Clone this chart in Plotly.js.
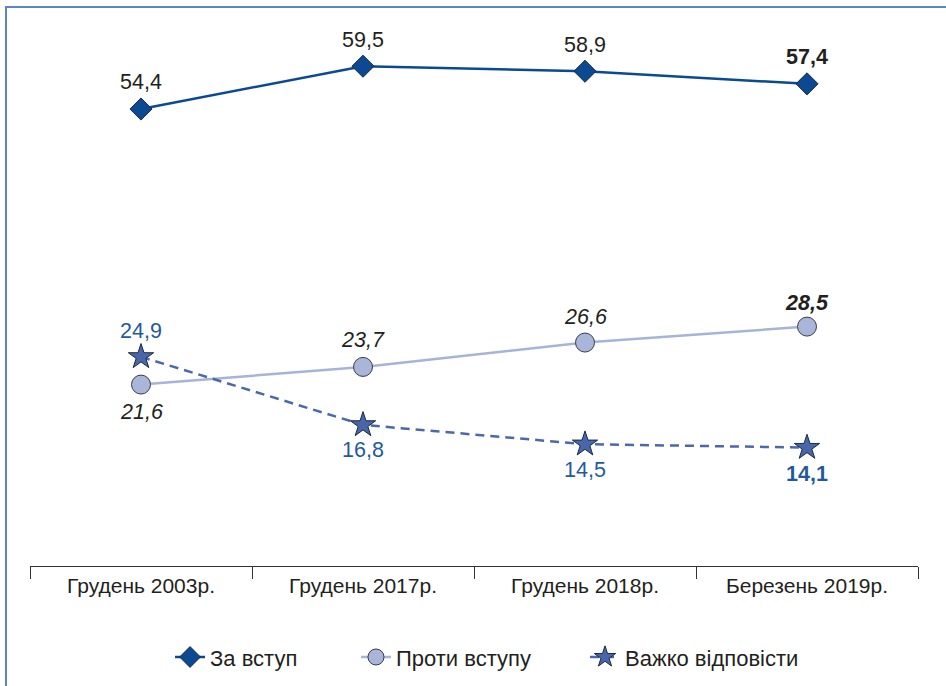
<!DOCTYPE html>
<html>
<head>
<meta charset="utf-8">
<script src="https://cdn.plot.ly/plotly-3.0.1.min.js"></script>
<style>
  html, body { margin: 0; padding: 0; background: #ffffff; }
  #wrap { position: relative; width: 946px; height: 686px; overflow: hidden; }
  #chart { position: absolute; left: 0; top: 0; width: 946px; height: 686px; }
  #frame { position: absolute; left: 5px; top: 6px; width: 960px; height: 700px;
           border-left: 2px solid #5b87be; border-top: 2px solid #5b87be; pointer-events: none; }
</style>
</head>
<body>
<div id="wrap">
  <div id="chart"></div>
  <div id="frame"></div>
</div>
<script>
// ---- data ----
const categories = ["Грудень 2003р.", "Грудень 2017р.", "Грудень 2018р.", "Березень 2019р."];
const seriesNames = ["За вступ", "Проти вступу", "Важко відповісти"];
const forJoining = [54.4, 59.5, 58.9, 57.4];
const againstJoining = [21.6, 23.7, 26.6, 28.5];
const hardToSay = [24.9, 16.8, 14.5, 14.1];

// ---- helpers ----
function fmt(v) { return v.toFixed(1).replace('.', ','); }
function label(v, i, n, italic) {
  let s = fmt(v);
  if (italic) s = '<i>' + s + '</i>';
  if (i === n - 1) s = '<b>' + s + '</b>';
  return s;
}

const FONT = '"Liberation Sans", Arial, Helvetica, sans-serif';

const traces = [
  {
    x: categories, y: forJoining, name: seriesNames[0], legend: 'legend',
    type: 'scatter', mode: 'lines+markers',
    line: { color: '#0b4a93', width: 2.5 },
    marker: { symbol: 'diamond', size: 17, color: '#0b4a93', line: { color: '#1a2a40', width: 1 } },
    hoverinfo: 'skip', cliponaxis: false
  },
  {
    x: categories, y: againstJoining, name: seriesNames[1], legend: 'legend2',
    type: 'scatter', mode: 'lines+markers',
    line: { color: '#a7b3d8', width: 2.5 },
    marker: { symbol: 'circle', size: 19, color: '#a9b6da', line: { color: '#3a3a48', width: 1 } },
    hoverinfo: 'skip', cliponaxis: false
  },
  {
    x: categories, y: hardToSay, name: seriesNames[2], legend: 'legend3',
    type: 'scatter', mode: 'lines+markers',
    line: { color: '#4a68ab', width: 2.5, dash: '9px,6px' },
    marker: { symbol: 'star', size: 19, color: '#4a66aa', line: { color: '#1a2a40', width: 1 } },
    hoverinfo: 'skip', cliponaxis: false
  }
];

// data labels (built from the arrays above)
const annotations = [];
function addLabels(values, italic, color, shifts) {
  values.forEach(function (v, i) {
    annotations.push({
      x: categories[i], y: v, xref: 'x', yref: 'y', showarrow: false,
      text: label(v, i, values.length, italic),
      yshift: shifts[i], yanchor: 'middle', xanchor: 'center',
      font: { family: FONT, size: 21.5, color: color }
    });
  });
}
addLabels(forJoining, false, '#231f20', [27, 26, 26, 27]);
addLabels(againstJoining, true, '#231f20', [-27, 27, 26, 24]);
addLabels(hardToSay, false, '#1f5a9e', [26, -25, -26, -26]);

const legendBase = {
  orientation: 'h', yanchor: 'middle', xanchor: 'left', yref: 'container', y: 0.042,
  bgcolor: 'rgba(0,0,0,0)', font: { family: FONT, size: 22, color: '#231f20' }
};

const layout = {
  width: 946, height: 686,
  margin: { l: 30, r: 28, t: 20, b: 120, autoexpand: false },
  paper_bgcolor: '#ffffff', plot_bgcolor: '#ffffff',
  font: { family: FONT, size: 21, color: '#231f20' },
  showlegend: true,
  legend: Object.assign({}, legendBase, { x: 0.1577 }),
  legend2: Object.assign({}, legendBase, { x: 0.3671 }),
  legend3: Object.assign({}, legendBase, { x: 0.625 }),
  annotations: annotations,
  xaxis: {
    type: 'category', range: [-0.5, 3.5],
    showline: true, linecolor: '#333333', linewidth: 1,
    ticks: 'outside', tickson: 'boundaries', ticklen: 12, tickcolor: '#333333', tickwidth: 1,
    showgrid: false, zeroline: false,
    tickfont: { family: FONT, size: 21, color: '#231f20' },
    ticklabelstandoff: 1, fixedrange: true
  },
  yaxis: {
    range: [0, 65], visible: false, showgrid: false, zeroline: false, fixedrange: true
  }
};

Plotly.newPlot('chart', traces, layout, { displayModeBar: false, staticPlot: true });
</script>
</body>
</html>
